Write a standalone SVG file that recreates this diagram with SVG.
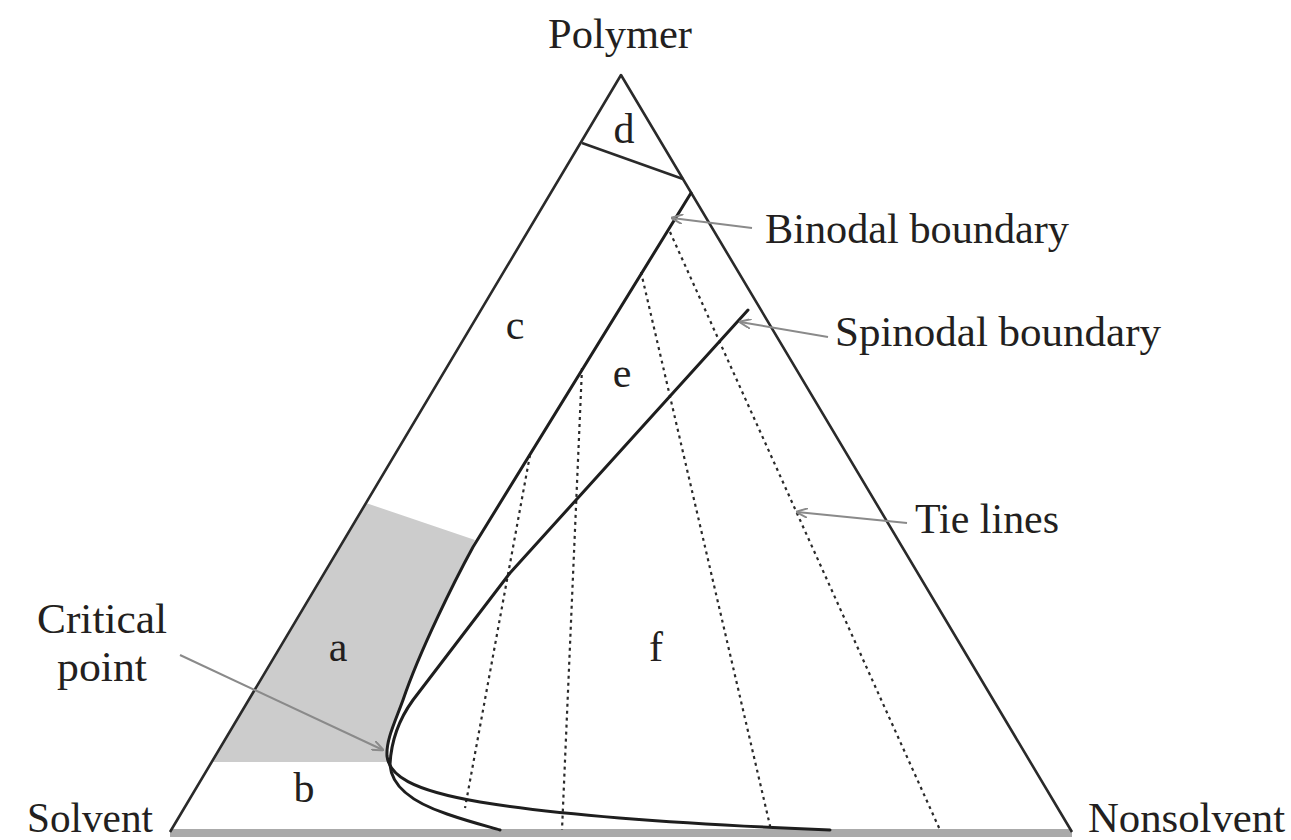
<svg xmlns="http://www.w3.org/2000/svg" width="1291" height="840" viewBox="0 0 1291 840">
<style>
text{font-family:"Liberation Serif","Times New Roman",serif;font-size:42px;fill:#231f20}
.edge{fill:none;stroke:#2a2a2a;stroke-width:2.6;stroke-linejoin:round}
.curve{fill:none;stroke:#1e1e1e;stroke-width:3;stroke-linejoin:round;stroke-linecap:round}
.tie{fill:none;stroke:#2a2a2a;stroke-width:2.2;stroke-dasharray:3 4}
.lead{fill:none;stroke:#8a8a8a;stroke-width:2;marker-end:url(#arr)}
</style>
<defs>
<marker id="arr" viewBox="0 0 12 10" refX="11" refY="5" markerWidth="12" markerHeight="10" markerUnits="userSpaceOnUse" orient="auto">
<path d="M0,0 L12,5 L0,10" fill="none" stroke="#8a8a8a" stroke-width="2"/>
</marker>
</defs>
<rect width="1291" height="840" fill="#fff"/>
<g id="region-a">
<path d="M366,503 L475,540 C455,580 420,650 403,700 C395,722 386,740 387,756 L387,762 L212,762 Z" fill="#cccccc"/>
</g>
<rect id="base" x="170" y="829" width="902" height="8" fill="#aaaaaa"/>
<g id="triangle">
<path class="edge" d="M170,832 L621,75 L1072,832"/>
<line class="edge" x1="582" y1="143" x2="683" y2="179"/>
</g>
<g id="tie-lines">
<line class="tie" x1="530" y1="455" x2="465" y2="808"/>
<line class="tie" x1="582" y1="368" x2="562" y2="830"/>
<line class="tie" x1="641" y1="272" x2="771" y2="830"/>
<line class="tie" x1="670" y1="232" x2="940" y2="830"/>
</g>
<g id="binodal">
<path class="curve" d="M691,193 L473,547 C455,580 420,650 403,700 C395,722 386,740 387,756 C389,775 410,790 480,802 C560,815 680,824 830,830"/>
</g>
<g id="spinodal">
<path class="curve" d="M748,310 L510,573 L413,700 C400,718 391,740 390,765 C392,790 420,805 447,814 C470,822 490,827 500,830"/>
</g>
<g id="connectors">
<line class="lead" x1="752" y1="228" x2="672" y2="218"/>
<line class="lead" x1="828" y1="337" x2="740" y2="322"/>
<line class="lead" x1="907" y1="523" x2="797" y2="512"/>
<line class="lead" x1="180" y1="655" x2="383" y2="750"/>
</g>
<g id="labels">
<text x="548" y="48" textLength="144" lengthAdjust="spacingAndGlyphs">Polymer</text>
<text x="27" y="832" textLength="126" lengthAdjust="spacingAndGlyphs">Solvent</text>
<text x="1088" y="832" textLength="197" lengthAdjust="spacingAndGlyphs">Nonsolvent</text>
<text x="765" y="243" textLength="304" lengthAdjust="spacingAndGlyphs">Binodal boundary</text>
<text x="835" y="346" textLength="326" lengthAdjust="spacingAndGlyphs">Spinodal boundary</text>
<text x="915" y="533" textLength="144" lengthAdjust="spacingAndGlyphs">Tie lines</text>
<text x="37" y="633" textLength="130" lengthAdjust="spacingAndGlyphs">Critical</text>
<text x="57" y="681" textLength="90" lengthAdjust="spacingAndGlyphs">point</text>
</g>
<g id="region-letters" text-anchor="middle">
<text x="624" y="143">d</text>
<text x="515" y="339">c</text>
<text x="622" y="387">e</text>
<text x="338" y="661">a</text>
<text x="656" y="661">f</text>
<text x="304" y="802">b</text>
</g>
</svg>
